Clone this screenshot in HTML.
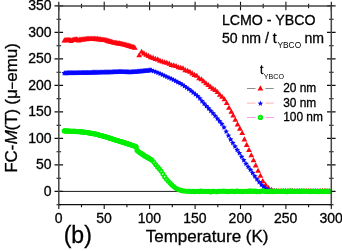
<!DOCTYPE html>
<html><head><meta charset="utf-8"><title>FC-M(T)</title>
<style>html,body{margin:0;padding:0;background:#fff;}body{width:342px;height:251px;overflow:hidden;font-family:"Liberation Sans",sans-serif;}svg{display:block;}</style>
</head><body>
<svg width="342" height="251" viewBox="0 0 342 251">
<defs>
<path id="t" d="M0,-2.75 L2.9,2.35 L-2.9,2.35 Z" fill="#fc0610"/>
<path id="s" d="M0.00,-2.62 L0.85,-0.90 L2.76,-0.62 L1.38,0.72 L1.70,2.62 L0.00,1.73 L-1.70,2.62 L-1.38,0.72 L-2.76,-0.62 L-0.85,-0.90Z" fill="#0808ff"/>
<path id="s2" d="M0.00,-2.71 L0.73,-0.73 L2.85,-0.64 L1.19,0.67 L1.76,2.71 L0.00,1.54 L-1.76,2.71 L-1.19,0.67 L-2.85,-0.64 L-0.73,-0.73Z" fill="#0808ff"/>
<circle id="c" r="1.68" fill="none" stroke="#00ee00" stroke-width="1.7"/>
<clipPath id="cp"><rect x="58.8" y="5.9" width="272.5" height="198.7"/></clipPath>
</defs>
<rect width="342" height="251" fill="#fff"/>
<g stroke="#1a1a1a" stroke-width="1.1" fill="none">
<line x1="58.8" y1="191.4" x2="331.3" y2="191.4" stroke-width="1"/>
</g>
<path d="M58.8,1.8 V10.2 M58.8,204.6 V209 M81.5,3.7 V8.2 M81.5,204.6 V207.3 M104.2,1.8 V10.2 M104.2,204.6 V209 M126.9,3.7 V8.2 M126.9,204.6 V207.3 M149.6,1.8 V10.2 M149.6,204.6 V209 M172.3,3.7 V8.2 M172.3,204.6 V207.3 M195.1,1.8 V10.2 M195.1,204.6 V209 M217.8,3.7 V8.2 M217.8,204.6 V207.3 M240.5,1.8 V10.2 M240.5,204.6 V209 M263.2,3.7 V8.2 M263.2,204.6 V207.3 M285.9,1.8 V10.2 M285.9,204.6 V209 M308.6,3.7 V8.2 M308.6,204.6 V207.3 M331.3,1.8 V10.2 M331.3,204.6 V209 M56.5,204.7 H61.1 M329,204.7 H333.6 M54.5,191.4 H63.1 M327,191.4 H335.6 M56.5,178.2 H61.1 M329,178.2 H333.6 M54.5,164.9 H63.1 M327,164.9 H335.6 M56.5,151.7 H61.1 M329,151.7 H333.6 M54.5,138.4 H63.1 M327,138.4 H335.6 M56.5,125.2 H61.1 M329,125.2 H333.6 M54.5,111.9 H63.1 M327,111.9 H335.6 M56.5,98.7 H61.1 M329,98.7 H333.6 M54.5,85.4 H63.1 M327,85.4 H335.6 M56.5,72.2 H61.1 M329,72.2 H333.6 M54.5,58.9 H63.1 M327,58.9 H335.6 M56.5,45.7 H61.1 M329,45.7 H333.6 M54.5,32.4 H63.1 M327,32.4 H335.6 M56.5,19.2 H61.1 M329,19.2 H333.6 M54.5,5.9 H63.1 M327,5.9 H335.6" stroke="#111" stroke-width="1.1" fill="none"/>
<g clip-path="url(#cp)"><g>
<use href="#t" x="64.4" y="40.1"/>
<use href="#t" x="65.5" y="39.9"/>
<use href="#t" x="66.6" y="39.7"/>
<use href="#t" x="67.7" y="39.7"/>
<use href="#t" x="68.8" y="39.7"/>
<use href="#t" x="69.9" y="39.5"/>
<use href="#t" x="71" y="40.6"/>
<use href="#t" x="72.1" y="39.7"/>
<use href="#t" x="73.2" y="39.6"/>
<use href="#t" x="74.3" y="39.2"/>
<use href="#t" x="75.4" y="39.3"/>
<use href="#t" x="76.5" y="39.1"/>
<use href="#t" x="77.6" y="39.4"/>
<use href="#t" x="78.7" y="40.1"/>
<use href="#t" x="79.8" y="39.3"/>
<use href="#t" x="80.9" y="39.2"/>
<use href="#t" x="82" y="39.1"/>
<use href="#t" x="83.1" y="38.9"/>
<use href="#t" x="84.2" y="38.9"/>
<use href="#t" x="85.3" y="38.7"/>
<use href="#t" x="86.4" y="38.8"/>
<use href="#t" x="87.5" y="38.6"/>
<use href="#t" x="88.6" y="38.6"/>
<use href="#t" x="89.7" y="38.5"/>
<use href="#t" x="90.8" y="38.6"/>
<use href="#t" x="91.9" y="38.3"/>
<use href="#t" x="93" y="38.6"/>
<use href="#t" x="94.1" y="38.3"/>
<use href="#t" x="95.2" y="38.4"/>
<use href="#t" x="96.3" y="38.8"/>
<use href="#t" x="97.4" y="38.5"/>
<use href="#t" x="98.5" y="38.9"/>
<use href="#t" x="99.6" y="39"/>
<use href="#t" x="100.7" y="38.9"/>
<use href="#t" x="101.8" y="39.5"/>
<use href="#t" x="102.9" y="39.3"/>
<use href="#t" x="104" y="39.5"/>
<use href="#t" x="105.1" y="39.7"/>
<use href="#t" x="106.2" y="39.9"/>
<use href="#t" x="107.3" y="40.3"/>
<use href="#t" x="108.4" y="40.8"/>
<use href="#t" x="109.5" y="41"/>
<use href="#t" x="110.6" y="41.3"/>
<use href="#t" x="111.7" y="41.6"/>
<use href="#t" x="112.8" y="41.9"/>
<use href="#t" x="113.9" y="42.2"/>
<use href="#t" x="115" y="42.5"/>
<use href="#t" x="116.1" y="42.3"/>
<use href="#t" x="117.2" y="42.9"/>
<use href="#t" x="118.3" y="43.1"/>
<use href="#t" x="119.4" y="43.1"/>
<use href="#t" x="120.5" y="43.4"/>
<use href="#t" x="121.6" y="43.6"/>
<use href="#t" x="122.7" y="44"/>
<use href="#t" x="123.8" y="44"/>
<use href="#t" x="124.9" y="44.3"/>
<use href="#t" x="126" y="44.6"/>
<use href="#t" x="127.1" y="45"/>
<use href="#t" x="128.2" y="45.3"/>
<use href="#t" x="129.3" y="45.6"/>
<use href="#t" x="130.4" y="45.9"/>
<use href="#t" x="131.5" y="46.3"/>
<use href="#t" x="132.6" y="46.7"/>
<use href="#t" x="133.7" y="46.8"/>
<use href="#t" x="134.8" y="47.4"/>
<use href="#t" x="139.2" y="55"/>
<use href="#t" x="141.6" y="51.4"/>
<use href="#t" x="143.9" y="53.1"/>
<use href="#t" x="146.2" y="54.5"/>
<use href="#t" x="148.5" y="55.6"/>
<use href="#t" x="150.8" y="56.8"/>
<use href="#t" x="153.1" y="57.6"/>
<use href="#t" x="155.4" y="58.6"/>
<use href="#t" x="157.7" y="59.1"/>
<use href="#t" x="160" y="60.3"/>
<use href="#t" x="162.3" y="61.2"/>
<use href="#t" x="164.6" y="61.9"/>
<use href="#t" x="166.9" y="62.5"/>
<use href="#t" x="169.2" y="63.3"/>
<use href="#t" x="171.5" y="64.7"/>
<use href="#t" x="173.8" y="65.1"/>
<use href="#t" x="176.1" y="65.7"/>
<use href="#t" x="178.4" y="67"/>
<use href="#t" x="180.7" y="67.5"/>
<use href="#t" x="183" y="67.9"/>
<use href="#t" x="185.3" y="69.8"/>
<use href="#t" x="187.6" y="70.5"/>
<use href="#t" x="189.9" y="71.4"/>
<use href="#t" x="192.2" y="73.1"/>
<use href="#t" x="194.5" y="74.6"/>
<use href="#t" x="196.8" y="75.4"/>
<use href="#t" x="199.1" y="78"/>
<use href="#t" x="201.4" y="78.9"/>
<use href="#t" x="203.7" y="81"/>
<use href="#t" x="206" y="83"/>
<use href="#t" x="208.3" y="84.7"/>
<use href="#t" x="210.6" y="86.6"/>
<use href="#t" x="212.9" y="88.3"/>
<use href="#t" x="215.2" y="89.6"/>
<use href="#t" x="217.5" y="91.7"/>
<use href="#t" x="219.8" y="94.4"/>
<use href="#t" x="222.1" y="96.5"/>
<use href="#t" x="224.4" y="99"/>
<use href="#t" x="226.7" y="102.7"/>
<use href="#t" x="229" y="107.5"/>
<use href="#t" x="231.3" y="111.5"/>
<use href="#t" x="233.2" y="115.2"/>
<use href="#t" x="235.3" y="119.5"/>
<use href="#t" x="237.6" y="124.1"/>
<use href="#t" x="239.9" y="128.3"/>
<use href="#t" x="242.2" y="132.7"/>
<use href="#t" x="244.4" y="139.1"/>
<use href="#t" x="246.7" y="144.6"/>
<use href="#t" x="249" y="149.7"/>
<use href="#t" x="251.3" y="154.9"/>
<use href="#t" x="253.5" y="160"/>
<use href="#t" x="255.7" y="165.1"/>
<use href="#t" x="258.1" y="170.5"/>
<use href="#t" x="260.4" y="175.5"/>
<use href="#t" x="262.8" y="180.7"/>
<use href="#t" x="265.6" y="184.5"/>
<use href="#t" x="268.6" y="187.7"/>
<use href="#t" x="271.5" y="189.5"/>
<use href="#t" x="274" y="190.4"/>
<use href="#t" x="276.4" y="190.7"/>
<use href="#t" x="278.7" y="190.7"/>
<use href="#t" x="281" y="190.7"/>
<use href="#t" x="283.3" y="190.7"/>
<use href="#t" x="285.6" y="190.7"/>
<use href="#t" x="287.9" y="190.7"/>
<use href="#t" x="290.2" y="190.7"/>
<use href="#t" x="292.5" y="190.7"/>
<use href="#t" x="294.8" y="190.7"/>
<use href="#t" x="297.1" y="190.7"/>
<use href="#t" x="299.4" y="190.7"/>
<use href="#t" x="301.7" y="190.7"/>
<use href="#t" x="304" y="190.7"/>
<use href="#t" x="306.3" y="190.7"/>
<use href="#t" x="308.6" y="190.7"/>
<use href="#t" x="310.9" y="190.7"/>
<use href="#t" x="313.2" y="190.7"/>
<use href="#t" x="315.5" y="190.7"/>
<use href="#t" x="317.8" y="190.7"/>
<use href="#t" x="320.1" y="190.7"/>
<use href="#t" x="322.4" y="190.7"/>
<use href="#t" x="324.7" y="190.7"/>
<use href="#t" x="327" y="190.7"/>
<use href="#t" x="329.3" y="190.7"/>
</g><g>
<use href="#s" x="64.2" y="72.8"/>
<use href="#s" x="65" y="72.8"/>
<use href="#s" x="65.8" y="72.8"/>
<use href="#s" x="66.6" y="72.8"/>
<use href="#s" x="67.4" y="72.7"/>
<use href="#s" x="68.2" y="72.7"/>
<use href="#s" x="69" y="72.7"/>
<use href="#s" x="69.8" y="72.7"/>
<use href="#s" x="70.6" y="72.7"/>
<use href="#s" x="71.4" y="72.7"/>
<use href="#s" x="72.2" y="72.6"/>
<use href="#s" x="73" y="72.6"/>
<use href="#s" x="73.8" y="72.6"/>
<use href="#s" x="74.6" y="72.6"/>
<use href="#s" x="75.4" y="72.6"/>
<use href="#s" x="76.2" y="72.6"/>
<use href="#s" x="77" y="72.6"/>
<use href="#s" x="77.8" y="72.5"/>
<use href="#s" x="78.6" y="72.5"/>
<use href="#s" x="79.4" y="72.5"/>
<use href="#s" x="80.2" y="72.5"/>
<use href="#s" x="81" y="72.5"/>
<use href="#s" x="81.8" y="72.5"/>
<use href="#s" x="82.6" y="72.4"/>
<use href="#s" x="83.4" y="72.4"/>
<use href="#s" x="84.2" y="72.4"/>
<use href="#s" x="85" y="72.4"/>
<use href="#s" x="85.8" y="72.4"/>
<use href="#s" x="86.6" y="72.4"/>
<use href="#s" x="87.4" y="72.4"/>
<use href="#s" x="88.2" y="72.3"/>
<use href="#s" x="89" y="72.3"/>
<use href="#s" x="89.8" y="72.3"/>
<use href="#s" x="90.6" y="72.3"/>
<use href="#s" x="91.4" y="72.3"/>
<use href="#s" x="92.2" y="72.2"/>
<use href="#s" x="93" y="72.2"/>
<use href="#s" x="93.8" y="72.2"/>
<use href="#s" x="94.6" y="72.2"/>
<use href="#s" x="95.4" y="72.2"/>
<use href="#s" x="96.2" y="72.2"/>
<use href="#s" x="97" y="72.1"/>
<use href="#s" x="97.8" y="72.1"/>
<use href="#s" x="98.6" y="72.1"/>
<use href="#s" x="99.4" y="72.1"/>
<use href="#s" x="100.2" y="72.1"/>
<use href="#s" x="101" y="72"/>
<use href="#s" x="101.8" y="72"/>
<use href="#s" x="102.6" y="72"/>
<use href="#s" x="103.4" y="72"/>
<use href="#s" x="104.2" y="72"/>
<use href="#s" x="105" y="71.9"/>
<use href="#s" x="105.8" y="71.9"/>
<use href="#s" x="106.6" y="71.9"/>
<use href="#s" x="107.4" y="71.9"/>
<use href="#s" x="108.2" y="71.9"/>
<use href="#s" x="109" y="71.8"/>
<use href="#s" x="109.8" y="71.8"/>
<use href="#s" x="110.6" y="71.8"/>
<use href="#s" x="111.4" y="71.8"/>
<use href="#s" x="112.2" y="71.8"/>
<use href="#s" x="113" y="71.7"/>
<use href="#s" x="113.8" y="71.7"/>
<use href="#s" x="114.6" y="71.7"/>
<use href="#s" x="115.4" y="71.7"/>
<use href="#s" x="116.2" y="71.6"/>
<use href="#s" x="117" y="71.6"/>
<use href="#s" x="117.8" y="71.5"/>
<use href="#s" x="118.6" y="71.5"/>
<use href="#s" x="119.4" y="71.4"/>
<use href="#s" x="120.2" y="71.4"/>
<use href="#s" x="121" y="71.4"/>
<use href="#s" x="121.8" y="71.5"/>
<use href="#s" x="122.6" y="71.5"/>
<use href="#s" x="123.4" y="71.5"/>
<use href="#s" x="124.2" y="71.6"/>
<use href="#s" x="125" y="71.6"/>
<use href="#s" x="125.8" y="71.6"/>
<use href="#s" x="126.6" y="71.7"/>
<use href="#s" x="127.4" y="71.7"/>
<use href="#s" x="128.2" y="71.7"/>
<use href="#s" x="129" y="71.8"/>
<use href="#s" x="129.8" y="71.8"/>
<use href="#s" x="130.6" y="71.8"/>
<use href="#s" x="131.4" y="71.7"/>
<use href="#s" x="132.2" y="71.6"/>
<use href="#s" x="133" y="71.6"/>
<use href="#s" x="133.8" y="71.5"/>
<use href="#s" x="134.6" y="71.5"/>
<use href="#s" x="135.4" y="71.4"/>
<use href="#s" x="136.2" y="71.3"/>
<use href="#s" x="137" y="71.3"/>
<use href="#s" x="137.8" y="71.2"/>
<use href="#s" x="138.6" y="71.1"/>
<use href="#s" x="139.4" y="71.1"/>
<use href="#s" x="140.2" y="71"/>
<use href="#s" x="141" y="70.9"/>
<use href="#s" x="141.8" y="70.9"/>
<use href="#s" x="142.6" y="70.8"/>
<use href="#s" x="143.4" y="70.7"/>
<use href="#s" x="144.2" y="70.6"/>
<use href="#s" x="145" y="70.5"/>
<use href="#s" x="145.8" y="70.4"/>
<use href="#s" x="146.6" y="70.3"/>
<use href="#s" x="147.4" y="70.3"/>
<use href="#s" x="148.2" y="70.2"/>
<use href="#s" x="149" y="70.1"/>
<use href="#s" x="149.8" y="70"/>
<use href="#s" x="150.6" y="69.9"/>
<use href="#s" x="151.4" y="70.1"/>
<use href="#s" x="153.6" y="70.8"/>
<use href="#s" x="155.8" y="71.6"/>
<use href="#s" x="158" y="72.5"/>
<use href="#s" x="160.2" y="73.5"/>
<use href="#s" x="162.4" y="74.5"/>
<use href="#s" x="164.6" y="75.5"/>
<use href="#s" x="166.8" y="76.5"/>
<use href="#s" x="169" y="77.5"/>
<use href="#s" x="171.2" y="78.5"/>
<use href="#s" x="173.4" y="79.6"/>
<use href="#s" x="175.6" y="80.7"/>
<use href="#s" x="177.8" y="81.9"/>
<use href="#s" x="180" y="83"/>
<use href="#s" x="182.2" y="84.3"/>
<use href="#s" x="184.4" y="85.8"/>
<use href="#s" x="186.6" y="87.3"/>
<use href="#s" x="188.8" y="88.8"/>
<use href="#s" x="191" y="90.5"/>
<use href="#s" x="193.2" y="92.3"/>
<use href="#s" x="195.4" y="94.1"/>
<use href="#s" x="197.6" y="95.8"/>
<use href="#s" x="199.8" y="98.1"/>
<use href="#s" x="202" y="100.9"/>
<use href="#s" x="204.2" y="103.4"/>
<use href="#s" x="206.4" y="105.8"/>
<use href="#s" x="208.6" y="108.2"/>
<use href="#s" x="210.8" y="110.6"/>
<use href="#s" x="213" y="113"/>
<use href="#s" x="215.2" y="115.6"/>
<use href="#s" x="217.4" y="118.3"/>
<use href="#s" x="219.6" y="121"/>
<use href="#s" x="221.8" y="123.7"/>
<use href="#s" x="224" y="127.2"/>
<use href="#s" x="226.2" y="131.3"/>
<use href="#s" x="228.4" y="135.3"/>
<use href="#s" x="230.6" y="139.2"/>
<use href="#s" x="232.8" y="142.7"/>
<use href="#s" x="235" y="146.2"/>
<use href="#s" x="237.2" y="149.7"/>
<use href="#s" x="239.4" y="152.8"/>
<use href="#s" x="241.6" y="156.5"/>
<use href="#s" x="243.8" y="159.9"/>
<use href="#s" x="246" y="163.5"/>
<use href="#s" x="248.2" y="166.6"/>
<use href="#s" x="250.4" y="169.5"/>
<use href="#s" x="252.6" y="172.7"/>
<use href="#s" x="254.8" y="176"/>
<use href="#s" x="257" y="179"/>
<use href="#s" x="259.2" y="181.8"/>
<use href="#s" x="261.4" y="184.4"/>
<use href="#s" x="263.6" y="186.5"/>
<use href="#s" x="265.8" y="188.2"/>
<use href="#s" x="268" y="189.6"/>
<use href="#s" x="270.2" y="190.5"/>
<use href="#s" x="272.4" y="190.9"/>
<use href="#s" x="274.6" y="191.1"/>
<use href="#s" x="276.8" y="191.1"/>
<use href="#s" x="279" y="191.1"/>
<use href="#s" x="281.2" y="191.1"/>
<use href="#s" x="283.4" y="191.1"/>
<use href="#s" x="285.6" y="191.1"/>
<use href="#s" x="287.8" y="191.1"/>
<use href="#s" x="290" y="191.1"/>
<use href="#s" x="292.2" y="191.1"/>
<use href="#s" x="294.4" y="191.1"/>
<use href="#s" x="296.6" y="191.1"/>
<use href="#s" x="298.8" y="191.1"/>
<use href="#s" x="301" y="191.1"/>
<use href="#s" x="303.2" y="191.1"/>
<use href="#s" x="305.4" y="191.1"/>
<use href="#s" x="307.6" y="191.1"/>
<use href="#s" x="309.8" y="191.1"/>
<use href="#s" x="312" y="191.1"/>
<use href="#s" x="314.2" y="191.1"/>
<use href="#s" x="316.4" y="191.1"/>
<use href="#s" x="318.6" y="191.1"/>
<use href="#s" x="320.8" y="191.1"/>
<use href="#s" x="323" y="191.1"/>
<use href="#s" x="325.2" y="191.1"/>
<use href="#s" x="327.4" y="191.1"/>
<use href="#s" x="329.6" y="191.1"/>
</g><g>
<use href="#c" x="330.6" y="191.6"/>
<use href="#c" x="329.3" y="191.4"/>
<use href="#c" x="328" y="191.3"/>
<use href="#c" x="326.7" y="191.5"/>
<use href="#c" x="325.4" y="191.1"/>
<use href="#c" x="324.1" y="191.7"/>
<use href="#c" x="322.8" y="191.4"/>
<use href="#c" x="321.5" y="191.6"/>
<use href="#c" x="320.2" y="191.3"/>
<use href="#c" x="318.9" y="191.7"/>
<use href="#c" x="317.6" y="191.3"/>
<use href="#c" x="316.3" y="191.5"/>
<use href="#c" x="315" y="191.4"/>
<use href="#c" x="313.7" y="191.5"/>
<use href="#c" x="312.4" y="191.4"/>
<use href="#c" x="311.1" y="191.2"/>
<use href="#c" x="309.8" y="191.7"/>
<use href="#c" x="308.5" y="191.4"/>
<use href="#c" x="307.2" y="191.5"/>
<use href="#c" x="305.9" y="191.3"/>
<use href="#c" x="304.6" y="191.2"/>
<use href="#c" x="303.3" y="191"/>
<use href="#c" x="302" y="191.4"/>
<use href="#c" x="300.7" y="191.4"/>
<use href="#c" x="299.4" y="191.6"/>
<use href="#c" x="298.1" y="191.4"/>
<use href="#c" x="296.8" y="191.5"/>
<use href="#c" x="295.5" y="191.2"/>
<use href="#c" x="294.2" y="191.4"/>
<use href="#c" x="292.9" y="191.5"/>
<use href="#c" x="291.6" y="190.8"/>
<use href="#c" x="290.3" y="191.5"/>
<use href="#c" x="289" y="191.1"/>
<use href="#c" x="287.7" y="191.7"/>
<use href="#c" x="286.4" y="191.7"/>
<use href="#c" x="285.1" y="191.6"/>
<use href="#c" x="283.8" y="191"/>
<use href="#c" x="282.5" y="191.4"/>
<use href="#c" x="281.2" y="191.2"/>
<use href="#c" x="279.9" y="191.5"/>
<use href="#c" x="278.6" y="191.3"/>
<use href="#c" x="277.3" y="191.4"/>
<use href="#c" x="276" y="191"/>
<use href="#c" x="274.7" y="191.3"/>
<use href="#c" x="273.4" y="191.8"/>
<use href="#c" x="272.1" y="191.5"/>
<use href="#c" x="270.8" y="191.1"/>
<use href="#c" x="269.5" y="191.6"/>
<use href="#c" x="268.2" y="191.6"/>
<use href="#c" x="266.9" y="191.4"/>
<use href="#c" x="265.6" y="191.6"/>
<use href="#c" x="264.3" y="191.3"/>
<use href="#c" x="263" y="190.9"/>
<use href="#c" x="261.7" y="191.1"/>
<use href="#c" x="260.4" y="191.6"/>
<use href="#c" x="259.1" y="191.6"/>
<use href="#c" x="257.8" y="191.5"/>
<use href="#c" x="256.5" y="191.8"/>
<use href="#c" x="255.2" y="191.1"/>
<use href="#c" x="253.9" y="191.4"/>
<use href="#c" x="252.6" y="191"/>
<use href="#c" x="251.3" y="191.5"/>
<use href="#c" x="250" y="190.9"/>
<use href="#c" x="248.7" y="191.4"/>
<use href="#c" x="247.4" y="191.4"/>
<use href="#c" x="246.1" y="191.2"/>
<use href="#c" x="244.8" y="191.5"/>
<use href="#c" x="243.5" y="191.4"/>
<use href="#c" x="242.2" y="191.7"/>
<use href="#c" x="240.9" y="191.3"/>
<use href="#c" x="239.6" y="191.5"/>
<use href="#c" x="238.3" y="191.4"/>
<use href="#c" x="237" y="191.1"/>
<use href="#c" x="235.7" y="191.2"/>
<use href="#c" x="234.4" y="191.7"/>
<use href="#c" x="233.1" y="191.3"/>
<use href="#c" x="231.8" y="191.2"/>
<use href="#c" x="230.5" y="191.2"/>
<use href="#c" x="229.2" y="191.6"/>
<use href="#c" x="227.9" y="191.7"/>
<use href="#c" x="226.6" y="191.2"/>
<use href="#c" x="225.3" y="191.5"/>
<use href="#c" x="224" y="191.1"/>
<use href="#c" x="222.7" y="191.2"/>
<use href="#c" x="221.4" y="191.2"/>
<use href="#c" x="220.1" y="191.3"/>
<use href="#c" x="218.8" y="191.2"/>
<use href="#c" x="217.5" y="191.8"/>
<use href="#c" x="216.2" y="191.7"/>
<use href="#c" x="214.9" y="191.5"/>
<use href="#c" x="213.6" y="191.4"/>
<use href="#c" x="212.3" y="191.4"/>
<use href="#c" x="211" y="191.9"/>
<use href="#c" x="209.7" y="191.8"/>
<use href="#c" x="208.4" y="191.2"/>
<use href="#c" x="207.1" y="191.5"/>
<use href="#c" x="205.8" y="191.4"/>
<use href="#c" x="204.5" y="191.5"/>
<use href="#c" x="203.2" y="191.3"/>
<use href="#c" x="201.9" y="191.4"/>
<use href="#c" x="200.6" y="191"/>
<use href="#c" x="199.3" y="191.6"/>
<use href="#c" x="198" y="191.4"/>
<use href="#c" x="196.7" y="191.5"/>
<use href="#c" x="195.4" y="191.5"/>
<use href="#c" x="194.1" y="191.7"/>
<use href="#c" x="192.8" y="191.2"/>
<use href="#c" x="191.5" y="191.6"/>
<use href="#c" x="190.2" y="191.4"/>
<use href="#c" x="188.9" y="191.3"/>
<use href="#c" x="187.6" y="191.2"/>
<use href="#c" x="186.3" y="191.2"/>
<use href="#c" x="184.5" y="191"/>
<use href="#c" x="182.7" y="190.9"/>
<use href="#c" x="180.9" y="190.4"/>
<use href="#c" x="179.1" y="189.8"/>
<use href="#c" x="177.3" y="189"/>
<use href="#c" x="175.5" y="188"/>
<use href="#c" x="173.7" y="186.6"/>
<use href="#c" x="171.9" y="185"/>
<use href="#c" x="170.1" y="183.1"/>
<use href="#c" x="168.3" y="181.2"/>
<use href="#c" x="166.5" y="179.2"/>
<use href="#c" x="164.7" y="176.9"/>
<use href="#c" x="162.9" y="174.1"/>
<use href="#c" x="161.1" y="171.1"/>
<use href="#c" x="159.3" y="168.9"/>
<use href="#c" x="157.5" y="166.9"/>
<use href="#c" x="155.7" y="164.8"/>
<use href="#c" x="153.9" y="162.2"/>
<use href="#c" x="152.1" y="160.2"/>
<use href="#c" x="151.3" y="159.8"/>
<use href="#c" x="150.5" y="159.3"/>
<use href="#c" x="149.7" y="158.8"/>
<use href="#c" x="148.9" y="158.3"/>
<use href="#c" x="148.1" y="157.9"/>
<use href="#c" x="147.3" y="157.4"/>
<use href="#c" x="146.5" y="156.9"/>
<use href="#c" x="145.7" y="156.4"/>
<use href="#c" x="144.9" y="156"/>
<use href="#c" x="144.1" y="155.5"/>
<use href="#c" x="143.3" y="154.9"/>
<use href="#c" x="142.5" y="154.4"/>
<use href="#c" x="141.7" y="153.8"/>
<use href="#c" x="140.9" y="153.3"/>
<use href="#c" x="140.1" y="152.8"/>
<use href="#c" x="139.3" y="152.2"/>
<use href="#c" x="138.5" y="151.5"/>
<use href="#c" x="137.7" y="150.9"/>
<use href="#c" x="136.9" y="150.3"/>
<use href="#c" x="136.3" y="146.8"/>
<use href="#c" x="135.6" y="146.5"/>
<use href="#c" x="134.9" y="146.3"/>
<use href="#c" x="134.2" y="146"/>
<use href="#c" x="133.5" y="145.8"/>
<use href="#c" x="132.8" y="145.6"/>
<use href="#c" x="132.1" y="145.3"/>
<use href="#c" x="131.4" y="145.1"/>
<use href="#c" x="130.7" y="144.8"/>
<use href="#c" x="130" y="144.6"/>
<use href="#c" x="129.3" y="144.4"/>
<use href="#c" x="128.6" y="144.1"/>
<use href="#c" x="127.9" y="143.9"/>
<use href="#c" x="127.2" y="143.7"/>
<use href="#c" x="126.5" y="143.4"/>
<use href="#c" x="125.8" y="143.2"/>
<use href="#c" x="125.1" y="142.9"/>
<use href="#c" x="124.4" y="142.7"/>
<use href="#c" x="123.7" y="142.5"/>
<use href="#c" x="123" y="142.3"/>
<use href="#c" x="122.3" y="142.1"/>
<use href="#c" x="121.6" y="141.9"/>
<use href="#c" x="120.9" y="141.7"/>
<use href="#c" x="120.2" y="141.5"/>
<use href="#c" x="119.5" y="141.3"/>
<use href="#c" x="118.8" y="141"/>
<use href="#c" x="118.1" y="140.8"/>
<use href="#c" x="117.4" y="140.6"/>
<use href="#c" x="116.7" y="140.4"/>
<use href="#c" x="116" y="140.2"/>
<use href="#c" x="115.3" y="140"/>
<use href="#c" x="114.6" y="139.8"/>
<use href="#c" x="113.9" y="139.5"/>
<use href="#c" x="113.2" y="139.3"/>
<use href="#c" x="112.5" y="139.1"/>
<use href="#c" x="111.8" y="138.8"/>
<use href="#c" x="111.1" y="138.6"/>
<use href="#c" x="110.4" y="138.4"/>
<use href="#c" x="109.7" y="138.2"/>
<use href="#c" x="109" y="137.9"/>
<use href="#c" x="108.3" y="137.7"/>
<use href="#c" x="107.6" y="137.5"/>
<use href="#c" x="106.9" y="137.2"/>
<use href="#c" x="106.2" y="137"/>
<use href="#c" x="105.5" y="136.8"/>
<use href="#c" x="104.8" y="136.6"/>
<use href="#c" x="104.1" y="136.4"/>
<use href="#c" x="103.4" y="136.2"/>
<use href="#c" x="102.7" y="136"/>
<use href="#c" x="102" y="135.8"/>
<use href="#c" x="101.3" y="135.7"/>
<use href="#c" x="100.6" y="135.5"/>
<use href="#c" x="99.9" y="135.3"/>
<use href="#c" x="99.2" y="135.1"/>
<use href="#c" x="98.5" y="134.9"/>
<use href="#c" x="97.8" y="134.7"/>
<use href="#c" x="97.1" y="134.5"/>
<use href="#c" x="96.4" y="134.3"/>
<use href="#c" x="95.7" y="134.1"/>
<use href="#c" x="95" y="134"/>
<use href="#c" x="94.3" y="133.9"/>
<use href="#c" x="93.6" y="133.8"/>
<use href="#c" x="92.9" y="133.6"/>
<use href="#c" x="92.2" y="133.5"/>
<use href="#c" x="91.5" y="133.4"/>
<use href="#c" x="90.8" y="133.2"/>
<use href="#c" x="90.1" y="133.1"/>
<use href="#c" x="89.4" y="133"/>
<use href="#c" x="88.7" y="132.9"/>
<use href="#c" x="88" y="132.7"/>
<use href="#c" x="87.3" y="132.6"/>
<use href="#c" x="86.6" y="132.5"/>
<use href="#c" x="85.9" y="132.3"/>
<use href="#c" x="85.2" y="132.3"/>
<use href="#c" x="84.5" y="132.2"/>
<use href="#c" x="83.8" y="132.1"/>
<use href="#c" x="83.1" y="132.1"/>
<use href="#c" x="82.4" y="132"/>
<use href="#c" x="81.7" y="132"/>
<use href="#c" x="81" y="131.9"/>
<use href="#c" x="80.3" y="131.8"/>
<use href="#c" x="79.6" y="131.8"/>
<use href="#c" x="78.9" y="131.7"/>
<use href="#c" x="78.2" y="131.7"/>
<use href="#c" x="77.5" y="131.6"/>
<use href="#c" x="76.8" y="131.6"/>
<use href="#c" x="76.1" y="131.5"/>
<use href="#c" x="75.4" y="131.4"/>
<use href="#c" x="74.7" y="131.4"/>
<use href="#c" x="74" y="131.4"/>
<use href="#c" x="73.3" y="131.3"/>
<use href="#c" x="72.6" y="131.3"/>
<use href="#c" x="71.9" y="131.3"/>
<use href="#c" x="71.2" y="131.2"/>
<use href="#c" x="70.5" y="131.2"/>
<use href="#c" x="69.8" y="131.2"/>
<use href="#c" x="69.1" y="131.1"/>
<use href="#c" x="68.4" y="131.1"/>
<use href="#c" x="67.7" y="131.1"/>
<use href="#c" x="67" y="131"/>
<use href="#c" x="66.3" y="131"/>
<use href="#c" x="65.6" y="131"/>
<use href="#c" x="64.9" y="130.9"/>
<use href="#c" x="64.2" y="130.9"/>
</g></g>
<path d="M58.8,5.95 V204.6 M331.3,5.95 V204.6 M58.8,5.95 H331.3" stroke="#444" stroke-width="1.5" fill="none"/><path d="M58.8,204.6 H331.3" stroke="#111" stroke-width="1.15" fill="none"/>
<g font-family="Liberation Sans, sans-serif" fill="#000" stroke="#000" stroke-width="0.3" style="filter:grayscale(1)">
<g font-size="14px" text-anchor="end">
<text x="51.6" y="195.6">0</text>
<text x="51.6" y="169.1">50</text>
<text x="51.6" y="142.6">100</text>
<text x="51.6" y="116.1">150</text>
<text x="51.6" y="89.6">200</text>
<text x="51.6" y="63.1">250</text>
<text x="51.6" y="36.6">300</text>
<text x="51.6" y="10.1">350</text>
</g>
<g font-size="14px" text-anchor="middle">
<text x="58.6" y="222.7">0</text>
<text x="104" y="222.7">50</text>
<text x="149.4" y="222.7">100</text>
<text x="194.9" y="222.7">150</text>
<text x="240.3" y="222.7">200</text>
<text x="285.7" y="222.7">250</text>
<text x="331.1" y="222.7">300</text>
</g>
<text x="145.7" y="241.8" font-size="17px">Temperature (K)</text>
<text x="63.7" y="242.9" font-size="23px">(b)</text>
<g transform="translate(16.8,0) rotate(-90)" font-size="17px">
<text x="-172.8" y="0">FC-</text>
<text x="-144.2" y="0" font-style="italic">M</text>
<text x="-130.5" y="0">(T)</text>
<text x="-104.7" y="0">(μ</text>
<text x="-81.8" y="0">emu)</text>
<path d="M-89.1,-4.5 H-82.2" stroke="#000" stroke-width="1.3"/>
</g>
<text x="221.9" y="25" font-size="14.2px">LCMO - YBCO</text>
<text x="221.9" y="42.5" font-size="14.1px">50 nm / t</text>
<text x="277.4" y="48" font-size="9.4px" stroke="none" textLength="23.8" lengthAdjust="spacingAndGlyphs">YBCO</text>
<text x="304.4" y="42.5" font-size="14.1px">nm</text>
<text x="260" y="73.9" font-size="11.9px">t</text>
<text x="263.8" y="78.5" font-size="8.1px" stroke="none" textLength="20.2" lengthAdjust="spacingAndGlyphs">YBCO</text>
<g font-size="11.9px">
<text x="283.2" y="92.4">20 nm</text>
<text x="283.2" y="106.7">30 nm</text>
<text x="283.2" y="121">100 nm</text>
</g>
</g>
<g stroke-width="0.8" fill="none">
<path d="M247,88.5 H255.4 M265.4,88.5 H273.7" stroke="#707070"/>
<path d="M247,103.1 H255.4 M265.4,103.1 H273.7" stroke="#ff9c9c"/>
<path d="M247,117.5 H255.4 M265.4,117.5 H273.7" stroke="#ff7df5"/>
</g>
<use href="#t" x="260.4" y="88.1"/>
<use href="#s2" x="260.4" y="103.3"/>
<circle cx="260.4" cy="117.4" r="2.65" fill="#00ee00"/><circle cx="260.1" cy="117.2" r="0.8" fill="#8cff8c"/>
</svg>
</body></html>
